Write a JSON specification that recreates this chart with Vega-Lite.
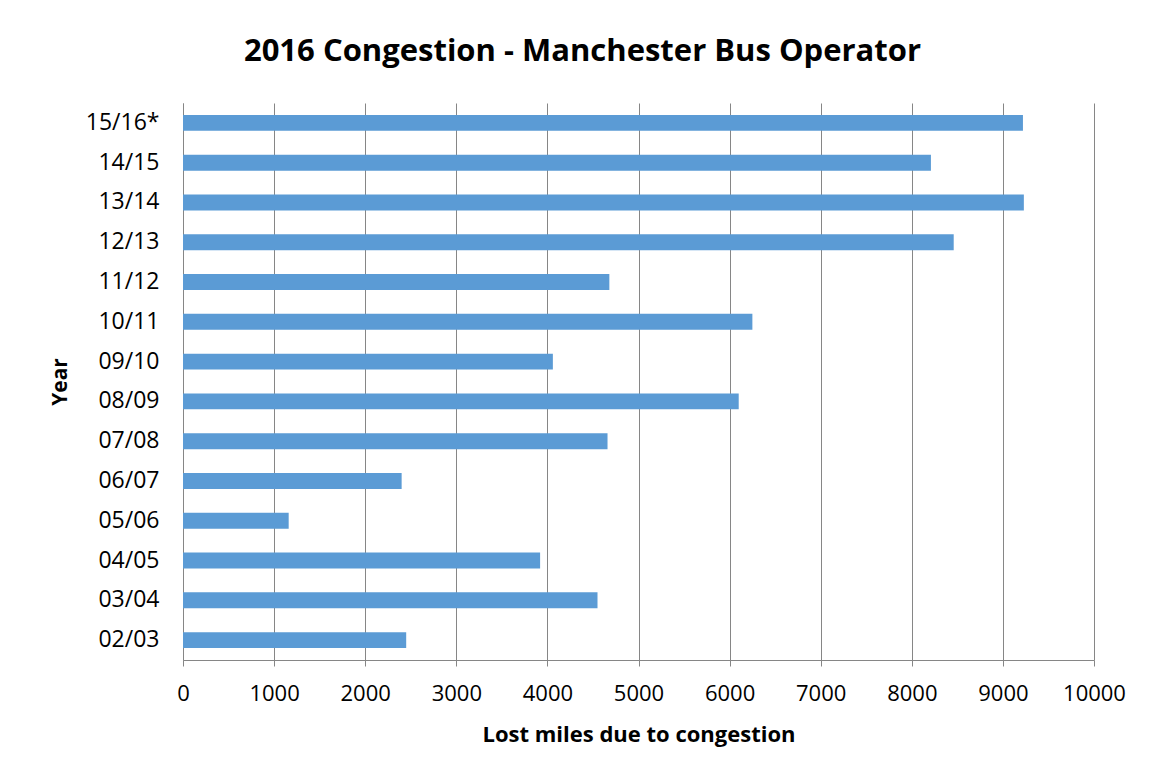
{
  "$schema": "https://vega.github.io/schema/vega-lite/v6.json",
  "width": 911,
  "height": 557,
  "autosize": "none",
  "padding": {"left": 183, "top": 103, "right": 55, "bottom": 119},
  "background": "white",
  "title": {
    "text": "2016 Congestion - Manchester Bus Operator",
    "font": "Open Sans",
    "fontSize": 31,
    "fontWeight": "bold",
    "color": "#000000",
    "anchor": "middle",
    "dx": -56,
    "offset": 35
  },
  "data": {
    "values": [
      {"year": "15/16*", "miles": 9220},
      {"year": "14/15", "miles": 8210},
      {"year": "13/14", "miles": 9230},
      {"year": "12/13", "miles": 8460},
      {"year": "11/12", "miles": 4680},
      {"year": "10/11", "miles": 6250},
      {"year": "09/10", "miles": 4060},
      {"year": "08/09", "miles": 6100},
      {"year": "07/08", "miles": 4660},
      {"year": "06/07", "miles": 2400},
      {"year": "05/06", "miles": 1160},
      {"year": "04/05", "miles": 3920},
      {"year": "03/04", "miles": 4550},
      {"year": "02/03", "miles": 2450}
    ]
  },
  "mark": {"type": "bar", "color": "#5B9BD5"},
  "encoding": {
    "y": {
      "field": "year",
      "type": "nominal",
      "sort": null,
      "scale": {"paddingInner": 0.6, "paddingOuter": 0.3},
      "axis": {
        "title": "Year",
        "titleFont": "Open Sans",
        "titleFontSize": 21,
        "titleFontWeight": "bold",
        "titleColor": "#000000",
        "titlePadding": 15,
        "labelFont": "Open Sans",
        "labelFontSize": 23,
        "labelColor": "#000000",
        "labelPadding": 24,
        "ticks": false,
        "domainColor": "#868686",
        "grid": false
      }
    },
    "x": {
      "field": "miles",
      "type": "quantitative",
      "scale": {"domain": [0, 10000], "nice": false},
      "axis": {
        "title": "Lost miles due to congestion",
        "titleFont": "Open Sans",
        "titleFontSize": 22,
        "titleFontWeight": "bold",
        "titleColor": "#000000",
        "titlePadding": 20,
        "labelFont": "Open Sans",
        "labelFontSize": 22,
        "labelColor": "#000000",
        "labelPadding": 17,
        "values": [0, 1000, 2000, 3000, 4000, 5000, 6000, 7000, 8000, 9000, 10000],
        "format": "d",
        "tickSize": 6,
        "tickColor": "#868686",
        "domainColor": "#868686",
        "grid": true,
        "gridColor": "#868686",
        "labelFlush": false
      }
    }
  },
  "config": {"view": {"stroke": null}}
}
